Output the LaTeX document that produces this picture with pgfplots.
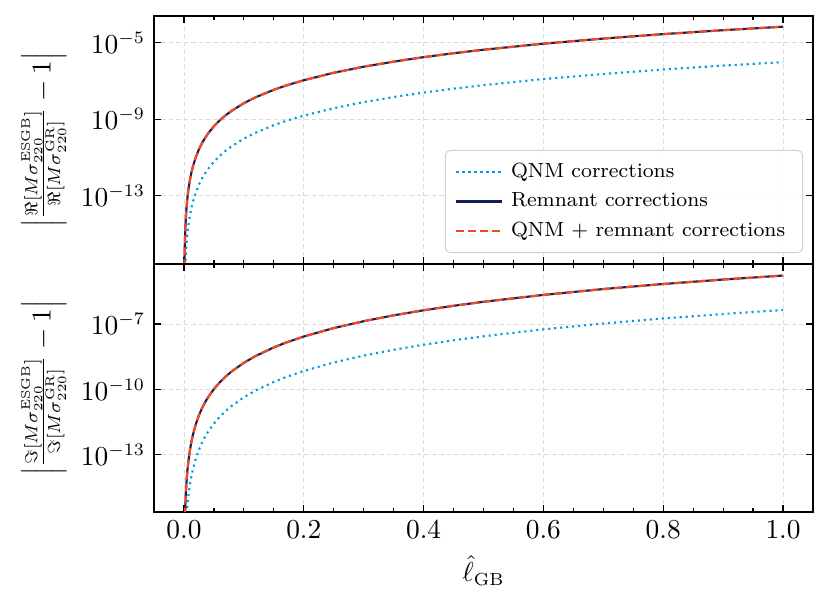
\documentclass[border=0pt]{standalone}
\usepackage{pgfplots}
\pgfplotsset{compat=1.18}
\usepackage{pgfplotstable}
\definecolor{qnm}{RGB}{0,157,224}
\definecolor{rem}{RGB}{17,32,90}
\definecolor{comb}{RGB}{250,72,30}
\definecolor{gridc}{RGB}{220,220,220}

\pgfplotstableread{
x rr rq ir iq
0.0005 4.23e-18 5.97e-20 1.04e-18 2.73e-20
0.001 6.76e-17 9.55e-19 1.66e-17 4.37e-19
0.0015 3.42e-16 4.83e-18 8.40e-17 2.21e-18
0.002 1.08e-15 1.53e-17 2.66e-16 6.99e-18
0.003 5.48e-15 7.74e-17 1.34e-15 3.54e-17
0.004 1.73e-14 2.44e-16 4.25e-15 1.12e-16
0.005 4.23e-14 5.97e-16 1.04e-14 2.73e-16
0.006 8.76e-14 1.24e-15 2.15e-14 5.66e-16
0.007 1.62e-13 2.29e-15 3.99e-14 1.05e-15
0.008 2.77e-13 3.91e-15 6.80e-14 1.79e-15
0.01 6.76e-13 9.55e-15 1.66e-13 4.37e-15
0.012 1.40e-12 1.98e-14 3.44e-13 9.06e-15
0.015 3.42e-12 4.83e-14 8.40e-13 2.21e-14
0.02 1.08e-11 1.53e-13 2.66e-12 6.99e-14
0.025 2.64e-11 3.73e-13 6.48e-12 1.71e-13
0.03 5.48e-11 7.74e-13 1.34e-11 3.54e-13
0.035 1.01e-10 1.43e-12 2.49e-11 6.56e-13
0.04 1.73e-10 2.44e-12 4.25e-11 1.12e-12
0.05 4.23e-10 5.97e-12 1.04e-10 2.73e-12
0.06 8.76e-10 1.24e-11 2.15e-10 5.66e-12
0.07 1.62e-9 2.29e-11 3.99e-10 1.05e-11
0.08 2.77e-9 3.91e-11 6.80e-10 1.79e-11
0.1 6.76e-9 9.55e-11 1.66e-9 4.37e-11
0.12 1.40e-8 1.98e-10 3.44e-9 9.06e-11
0.15 3.42e-8 4.83e-10 8.40e-9 2.21e-10
0.17 5.65e-8 7.98e-10 1.39e-8 3.65e-10
0.2 1.08e-7 1.53e-9 2.66e-8 6.99e-10
0.25 2.64e-7 3.73e-9 6.48e-8 1.71e-9
0.3 5.48e-7 7.74e-9 1.34e-7 3.54e-9
0.35 1.01e-6 1.43e-8 2.49e-7 6.56e-9
0.4 1.73e-6 2.44e-8 4.25e-7 1.12e-8
0.45 2.77e-6 3.92e-8 6.81e-7 1.79e-8
0.5 4.23e-6 5.97e-8 1.04e-6 2.73e-8
0.6 8.76e-6 1.24e-7 2.15e-6 5.66e-8
0.7 1.62e-5 2.29e-7 3.99e-6 1.05e-7
0.8 2.77e-5 3.91e-7 6.80e-6 1.79e-7
0.9 4.44e-5 6.27e-7 1.09e-5 2.87e-7
1.0 6.76e-5 9.55e-7 1.66e-5 4.37e-7
}\data

\pgfplotsset{
  panel/.style={
    scale only axis,
    width=263.6pt, height=99.2pt,
    xmin=-0.05, xmax=1.05,
    xtick={0,0.2,0.4,0.6,0.8,1.0},
    minor x tick num=3,
    xticklabel style={/pgf/number format/fixed,/pgf/number format/fixed zerofill,/pgf/number format/precision=1},
    tick align=inside,
    tick pos=both,
    major tick length=2.8pt,
    minor tick length=1.6pt,
    axis line style={line width=0.6pt},
    every tick/.style={black, line width=0.5pt},
    grid=major,
    major grid style={gridc, line width=0.35pt, dash pattern=on 1.8pt off 1.2pt},
    tick label style={font=\fontsize{10.5}{12}\selectfont},
    label style={font=\fontsize{10.5}{12}\selectfont},
    yminorticks=false,
    ylabel shift=-1pt,
  },
  qnmstyle/.style={qnm, line width=0.85pt, dash pattern=on 0.85pt off 1.55pt},
  remstyle/.style={rem, line width=0.85pt},
  combstyle/.style={comb, line width=0.85pt, dash pattern=on 3.2pt off 1.6pt},
}

\begin{document}
\begin{tikzpicture}
\path[use as bounding box] (0,0) rectangle (332.4pt,-242.4pt);
\begin{semilogyaxis}[panel, at={(61.6pt,-6.4pt)}, anchor=north west,
  ymin=2.69e-17, ymax=2.45e-4,
  ytick={1e-13,1e-9,1e-5},
  xticklabels={},
  ylabel={$\Big|\frac{\Re[M\sigma_{220}^{\mathrm{ESGB}}]}{\Re[M\sigma_{220}^{\mathrm{GR}}]}-1\Big|$},
  legend cell align=left,
  legend image code/.code={\draw[#1] (0pt,0pt) -- (18.4pt,0pt);},
  legend style={at={(0.985,0.044)}, anchor=south east, draw=black!18, rounded corners=2pt,
    fill=white, fill opacity=0.85, text opacity=1, font=\fontsize{8.2}{10}\selectfont,
    inner xsep=4pt, inner ysep=4pt, row sep=2.6pt,
    nodes={inner xsep=3pt, inner ysep=1pt}},
]
\addplot[qnmstyle] table[x=x, y=rq] {\data};
\addlegendentry{QNM corrections}
\addplot[remstyle] table[x=x, y=rr] {\data};
\addlegendentry{Remnant corrections}
\addplot[combstyle] table[x=x, y=rr] {\data};
\addlegendentry{QNM + remnant corrections}
\end{semilogyaxis}
\begin{semilogyaxis}[panel, at={(61.6pt,-105.6pt)}, anchor=north west,
  ymin=2.40e-16, ymax=5.62e-5,
  ytick={1e-13,1e-10,1e-7},
  ylabel={$\Big|\frac{\Im[M\sigma_{220}^{\mathrm{ESGB}}]}{\Im[M\sigma_{220}^{\mathrm{GR}}]}-1\Big|$},
  xlabel={$\hat{\ell}_{\mathrm{GB}}$},
]
\addplot[qnmstyle] table[x=x, y=iq] {\data};
\addplot[remstyle] table[x=x, y=ir] {\data};
\addplot[combstyle] table[x=x, y=ir] {\data};
\end{semilogyaxis}
\end{tikzpicture}
\end{document}
